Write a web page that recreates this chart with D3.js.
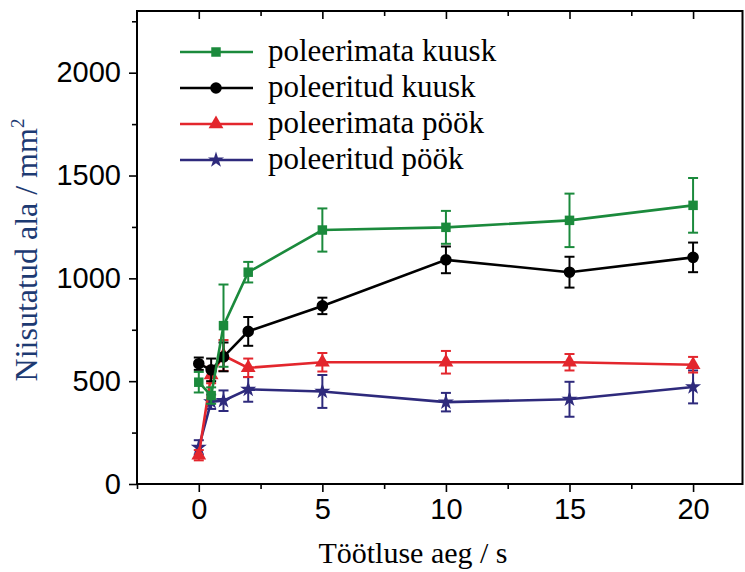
<!DOCTYPE html>
<html>
<head>
<meta charset="utf-8">
<script src="https://cdn.jsdelivr.net/npm/d3@7"></script>
<style>
  body { margin: 0; background: #fff; }
</style>
</head>
<body>
<div id="chart"></div>
<script>
// Data
var times = [0, 0.5, 1, 2, 5, 10, 15, 20];

var unpolishedSpruce = [495, 430, 770, 1030, 1235, 1248, 1282, 1355];
var unpolishedSpruceErr = [50, 40, 200, 50, 105, 80, 130, 133];

var polishedSpruce = [585, 555, 618, 742, 866, 1090, 1030, 1102];
var polishedSpruceErr = [30, 55, 70, 70, 40, 65, 75, 72];

var unpolishedBeech = [140, 530, 625, 565, 592, 592, 592, 580];
var unpolishedBeechErr = [25, 40, 75, 45, 45, 55, 40, 38];

var polishedBeech = [178, 400, 405, 460, 450, 398, 412, 472];
var polishedBeechErr = [35, 35, 50, 60, 80, 45, 85, 80];

var seriesNames = ["poleerimata kuusk", "poleeritud kuusk", "poleerimata pöök", "poleeritud pöök"];

var xTicks = [0, 5, 10, 15, 20];
var yTicks = [0, 500, 1000, 1500, 2000];

// series config (drawn bottom to top)
var series = [
  { name: seriesNames[3], values: polishedBeech, err: polishedBeechErr, color: "#2e2a7c", symbol: d3.symbolStar, size: 80 },
  { name: seriesNames[2], values: unpolishedBeech, err: unpolishedBeechErr, color: "#e3262d", symbol: d3.symbolTriangle, size: 95 },
  { name: seriesNames[1], values: polishedSpruce, err: polishedSpruceErr, color: "#000000", symbol: d3.symbolCircle, size: 105 },
  { name: seriesNames[0], values: unpolishedSpruce, err: unpolishedSpruceErr, color: "#1b8a3c", symbol: d3.symbolSquare, size: 90 }
];

var W = 745, H = 572;
var svg = d3.select("#chart").append("svg")
  .attr("width", W)
  .attr("height", H);

var x = d3.scaleLinear().domain([-2.5, 22]).range([137, 742.5]);
var y = d3.scaleLinear().domain([0, 2300]).range([484, 11]);

// frame
svg.append("rect")
  .attr("x", x(-2.5)).attr("y", y(2300))
  .attr("width", x(22) - x(-2.5)).attr("height", y(0) - y(2300))
  .attr("fill", "none").attr("stroke", "#000").attr("stroke-width", 2);

// bottom axis
var xAxis = svg.append("g")
  .attr("transform", "translate(0," + y(0) + ")")
  .call(d3.axisBottom(x).tickValues(xTicks).tickSize(8).tickPadding(6).tickFormat(d3.format("d")));
xAxis.select(".domain").remove();
svg.append("g")
  .attr("transform", "translate(0," + y(0) + ")")
  .call(d3.axisBottom(x).tickValues([-2.5, 2.5, 7.5, 12.5, 17.5]).tickSize(5).tickFormat(""))
  .select(".domain").remove();

// top mirror ticks (inward)
svg.append("g")
  .attr("transform", "translate(0," + y(2300) + ")")
  .call(d3.axisBottom(x).tickValues(xTicks).tickSize(8).tickFormat(""))
  .select(".domain").remove();
svg.append("g")
  .attr("transform", "translate(0," + y(2300) + ")")
  .call(d3.axisBottom(x).tickValues([2.5, 7.5, 12.5, 17.5]).tickSize(5).tickFormat(""))
  .select(".domain").remove();

// left axis
var yAxis = svg.append("g")
  .attr("transform", "translate(" + x(-2.5) + ",0)")
  .call(d3.axisLeft(y).tickValues(yTicks).tickSize(8).tickPadding(8).tickFormat(d3.format("d")));
yAxis.select(".domain").remove();
svg.append("g")
  .attr("transform", "translate(" + x(-2.5) + ",0)")
  .call(d3.axisLeft(y).tickValues([250, 750, 1250, 1750, 2250]).tickSize(5).tickFormat(""))
  .select(".domain").remove();

svg.selectAll(".tick line").attr("stroke", "#000").attr("stroke-width", 1.6);
svg.selectAll(".tick text")
  .style("font-family", "'Liberation Sans', Arial, sans-serif")
  .style("font-size", "29px")
  .attr("fill", "#000");

// axis titles
svg.append("text")
  .attr("x", 413)
  .attr("y", 563)
  .attr("text-anchor", "middle")
  .style("font-family", "'Liberation Serif', 'Times New Roman', serif")
  .style("font-size", "30px")
  .attr("fill", "#000")
  .text("Töötluse aeg / s");

var yTitle = svg.append("text")
  .attr("transform", "translate(37,250) rotate(-90)")
  .attr("text-anchor", "middle")
  .style("font-family", "'Liberation Serif', 'Times New Roman', serif")
  .style("font-size", "32px")
  .attr("fill", "#1d3a72");
yTitle.append("tspan").text("Niisutatud ala / mm");
yTitle.append("tspan").attr("dy", -13).style("font-size", "19px").text("2");

// lines, error bars, markers
var line = d3.line()
  .x(function (d, i) { return x(times[i]); })
  .y(function (d) { return y(d); });

series.forEach(function (s) {
  var g = svg.append("g");

  g.append("path")
    .datum(s.values)
    .attr("fill", "none")
    .attr("stroke", s.color)
    .attr("stroke-width", 2.6)
    .attr("d", line);

  s.values.forEach(function (v, i) {
    var cx = x(times[i]);
    var top = y(v + s.err[i]), bot = y(v - s.err[i]);
    g.append("line")
      .attr("x1", cx).attr("x2", cx).attr("y1", top).attr("y2", bot)
      .attr("stroke", s.color).attr("stroke-width", 2);
    [top, bot].forEach(function (yy) {
      g.append("line")
        .attr("x1", cx - 5).attr("x2", cx + 5).attr("y1", yy).attr("y2", yy)
        .attr("stroke", s.color).attr("stroke-width", 2);
    });
    g.append("path")
      .attr("transform", "translate(" + cx + "," + y(v) + ")")
      .attr("d", d3.symbol().type(s.symbol).size(s.size)())
      .attr("fill", s.color);
  });
});

// legend
var legend = svg.append("g");
var legendOrder = [series[3], series[2], series[1], series[0]];
legendOrder.forEach(function (s, i) {
  var ly = 52 + i * 36;
  legend.append("line")
    .attr("x1", 180).attr("x2", 253).attr("y1", ly).attr("y2", ly)
    .attr("stroke", s.color).attr("stroke-width", 2.6);
  legend.append("path")
    .attr("transform", "translate(216," + ly + ")")
    .attr("d", d3.symbol().type(s.symbol).size(s.size)())
    .attr("fill", s.color);
  legend.append("text")
    .attr("x", 268).attr("y", ly + 9)
    .style("font-family", "'Liberation Serif', 'Times New Roman', serif")
    .style("font-size", "31px")
    .attr("fill", "#000")
    .text(s.name);
});
</script>
</body>
</html>
